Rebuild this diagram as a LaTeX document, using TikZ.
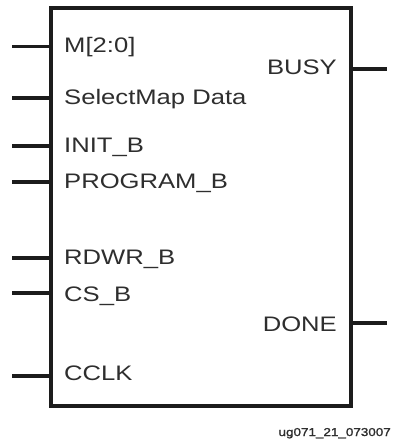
\documentclass[tikz,border=0pt]{standalone}
\usepackage{fontspec}
\newfontfamily\pinfont[FakeStretch=1.22]{Liberation Sans}
\newfontfamily\tagfont[FakeStretch=1.18,FakeBold=1.5]{Liberation Sans}
\definecolor{ink}{HTML}{1C1C1C}
\definecolor{labelgray}{HTML}{2E2E2E}
\begin{document}
\begin{tikzpicture}[x=1pt,y=-1pt,
  pinline/.style={draw=ink,line width=3.8pt},
  pinlabel/.style={inner sep=0pt,text=labelgray,font=\pinfont\fontsize{21}{24}\selectfont},
  inlabel/.style={pinlabel,anchor=base west},
  outlabel/.style={pinlabel,anchor=base east},
  tag/.style={inner sep=0pt,anchor=base east,text=labelgray,font=\tagfont\fontsize{11.4}{13}\selectfont}]
  \useasboundingbox (0,0) rectangle (393,442);

  % configuration block outline
  \draw[pinline,line join=miter] (51,8) rectangle (351,406);

  % input pins on the left side
  \foreach \name/\y/\base/\txt in {m/46.5/52/{M[2:0]},
                             sel/98/104/{SelectMap Data},
                             init/146/152/{INIT\_B},
                             prog/182/188/{PROGRAM\_B},
                             rdwr/258/264/{RDWR\_B},
                             cs/293/301/{CS\_B},
                             cclk/376/380/{CCLK}} {
    \coordinate (\name-in) at (12,\y);
    \coordinate (\name-pin) at (51,\y);
    \draw[pinline] (\name-in) -- (\name-pin);
    \node[inlabel] (\name-label) at (64,\base) {\txt};
  }

  % output pins on the right side
  \foreach \name/\y/\base/\txt in {busy/69/74/{BUSY},
                             done/323/331/{DONE}} {
    \coordinate (\name-pin) at (351,\y);
    \coordinate (\name-out) at (387,\y);
    \draw[pinline] (\name-pin) -- (\name-out);
    \node[outlabel] (\name-label) at (337,\base) {\txt};
  }

  % figure tag
  \node[tag] (figtag) at (391,436) {ug071\_21\_073007};
\end{tikzpicture}
\end{document}
